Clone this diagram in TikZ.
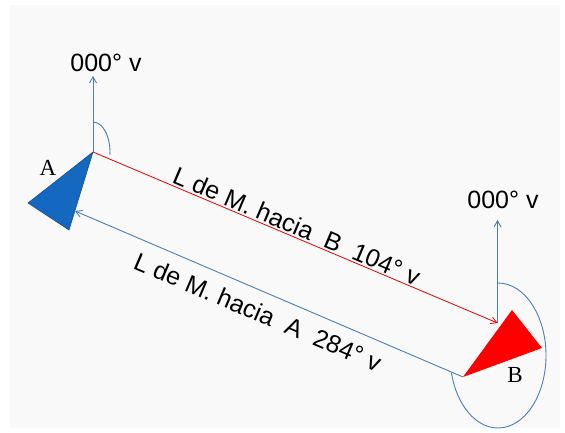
\documentclass[tikz,border=0pt]{standalone}
\usepackage{fontspec}
\setmainfont{Liberation Sans}
\newfontfamily\serifAB{Liberation Serif}
\usetikzlibrary{arrows.meta}
\definecolor{lineblue}{HTML}{4A7EBB}
\definecolor{triblue}{HTML}{1568C0}
\definecolor{triblueedge}{HTML}{1A4F8E}
\definecolor{bgray}{HTML}{F9F9F9}
\tikzset{
  bline/.style={draw=lineblue, line width=0.9pt},
  rline/.style={draw=red!90!black, line width=0.8pt},
  tip/.style={-{Straight Barb[angle=60:7pt]}},
  lbl/.style={font=\fontsize{25}{30}\selectfont, inner sep=0pt},
  ptlbl/.style={font=\serifAB\fontsize{23}{27}\selectfont, inner sep=0pt}
}
\begin{document}
\begin{tikzpicture}[x=1pt,y=1pt]
\useasboundingbox (0,0) rectangle (565,432);
\fill[white] (0,0) rectangle (565,432);
\fill[bgray] (10,4) rectangle (560,427);
% points
\coordinate (A) at (93,280);
\coordinate (B) at (497.5,109);
\coordinate (Bstart) at (463,55);
\coordinate (Aend) at (75,221);
\coordinate (NA) at (93,356);
\coordinate (NB) at (497.5,212);
% triangles
\filldraw[fill=triblue, draw=triblueedge, line width=0.6pt] (A) -- (28,229) -- (69,202) -- cycle;
\fill[red] (512,122) -- (542,84) -- (Bstart) -- cycle;
% north arrows
\draw[bline, tip] (A) -- (NA);
\draw[bline, tip] (B) -- (NB);
\node[lbl] (nA) at (106,369) {000° v};
\node[lbl] (nB) at (503,232) {000° v};
% angle arcs
\draw[bline] (93,310) arc[start angle=90, end angle=-5, x radius=17, y radius=30];
\draw[bline] (498,149) arc[start angle=90, end angle=-166, x radius=48, y radius=72.5];
% bearing lines
\draw[rline, tip] (A) -- (B);
\draw[bline, tip] (Bstart) -- (Aend);
% labels
\node[lbl, rotate=-23] (t1) at (297,206) {L de M. hacia \ B \ 104° v};
\node[lbl, rotate=-23] (t2) at (258,120) {L de M. hacia \ A \ 284° v};
\node[ptlbl] (lA) at (48,264) {A};
\node[ptlbl] (lB) at (515,57) {B};
\end{tikzpicture}
\end{document}
